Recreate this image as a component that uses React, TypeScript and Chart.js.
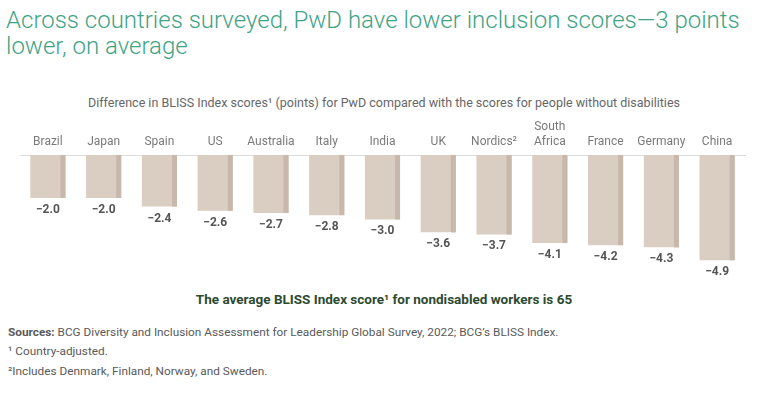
import React, { useEffect, useRef } from "react";
import { Chart, registerables } from "chart.js";

Chart.register(...registerables);

const categories: (string | string[])[] = [
  "Brazil", "Japan", "Spain", "US", "Australia", "Italy", "India",
  "UK", "Nordics²", ["South", "Africa"], "France", "Germany", "China",
];
const values: number[] = [-2.0, -2.0, -2.4, -2.6, -2.7, -2.8, -3.0, -3.6, -3.7, -4.1, -4.2, -4.3, -4.9];

const FONT = "Roboto, 'Noto Sans', sans-serif";

const barDecor = {
  id: "barDecor",
  afterDatasetsDraw(chart: any) {
    const ctx = chart.ctx;
    const meta = chart.getDatasetMeta(0);
    ctx.save();
    meta.data.forEach((bar: any, i: number) => {
      const { x, y, base, width } = bar.getProps(["x", "y", "base", "width"], true);
      ctx.fillStyle = "#c7b8ab";
      ctx.fillRect(x + width / 2 - 5, base, 5, y - base);
      ctx.fillStyle = "#555555";
      ctx.font = `bold 12px ${FONT}`;
      ctx.textAlign = "center";
      ctx.textBaseline = "middle";
      const v = values[i];
      const txt = (v < 0 ? "\u2212" : "") + Math.abs(v).toFixed(1);
      ctx.fillText(txt, x, y + 12);
    });
    ctx.restore();
  },
};

function BarChart() {
  const ref = useRef<HTMLCanvasElement | null>(null);
  useEffect(() => {
    if (!ref.current) return;
    const chart = new Chart(ref.current, {
      type: "bar",
      data: {
        labels: categories,
        datasets: [
          {
            data: values,
            backgroundColor: "#dacdc1",
            borderWidth: 0,
            categoryPercentage: 1,
            barPercentage: 0.63,
          },
        ],
      },
      options: {
        animation: false,
        responsive: false,
        maintainAspectRatio: false,
        layout: { padding: { left: 20, right: 23, top: 11, bottom: 19 } },
        plugins: { legend: { display: false }, tooltip: { enabled: false } },
        scales: {
          x: {
            position: "top",
            grid: { display: false, drawTicks: false },
            border: { display: true, color: "#dddddd", width: 1 },
            ticks: {
              color: "#7a7a7a",
              font: { family: FONT, size: 12 },
              padding: 6,
              maxRotation: 0,
              autoSkip: false,
            },
            afterFit: (s: any) => {
              s.height = 34;
            },
          },
          y: { display: false, min: -5.4, max: 0 },
        },
      },
      plugins: [barDecor],
    });
    return () => chart.destroy();
  }, []);
  return (
    <canvas
      ref={ref}
      width={768}
      height={180}
      style={{ position: "absolute", left: 0, top: 110, width: 768, height: 180 }}
    />
  );
}

export default function App() {
  return (
    <div
      style={{
        position: "absolute",
        left: 0,
        top: 0,
        width: 768,
        height: 395,
        background: "#ffffff",
        fontFamily: FONT,
        overflow: "hidden",
      }}
    >
      <div
        style={{
          position: "absolute",
          left: 6,
          top: 7,
          width: 750,
          fontSize: 24,
          fontWeight: 300,
          lineHeight: "26px",
          color: "#3fa384",
        }}
      >
        Across countries surveyed, PwD have lower inclusion scores—3 points lower, on average
      </div>
      <div
        style={{
          position: "absolute",
          left: 0,
          top: 95,
          width: 768,
          textAlign: "center",
          fontSize: 12.5,
          color: "#666666",
        }}
      >
        Difference in BLISS Index scores¹ (points) for PwD compared with the scores for people without disabilities
      </div>
      <BarChart />
      <div
        style={{
          position: "absolute",
          left: 0,
          top: 291,
          width: 768,
          textAlign: "center",
          fontSize: 13.5,
          fontWeight: 700,
          color: "#2c4a30",
        }}
      >
        The average BLISS Index score¹ for nondisabled workers is 65
      </div>
      <div style={{ position: "absolute", left: 8, top: 325, fontSize: 11.8, color: "#5a5a5a" }}>
        <b>Sources:</b> BCG Diversity and Inclusion Assessment for Leadership Global Survey, 2022; BCG’s BLISS Index.
      </div>
      <div style={{ position: "absolute", left: 8, top: 344, fontSize: 11.8, color: "#5a5a5a" }}>
        ¹ Country-adjusted.
      </div>
      <div style={{ position: "absolute", left: 8, top: 364, fontSize: 11.8, color: "#5a5a5a" }}>
        ²Includes Denmark, Finland, Norway, and Sweden.
      </div>
    </div>
  );
}
